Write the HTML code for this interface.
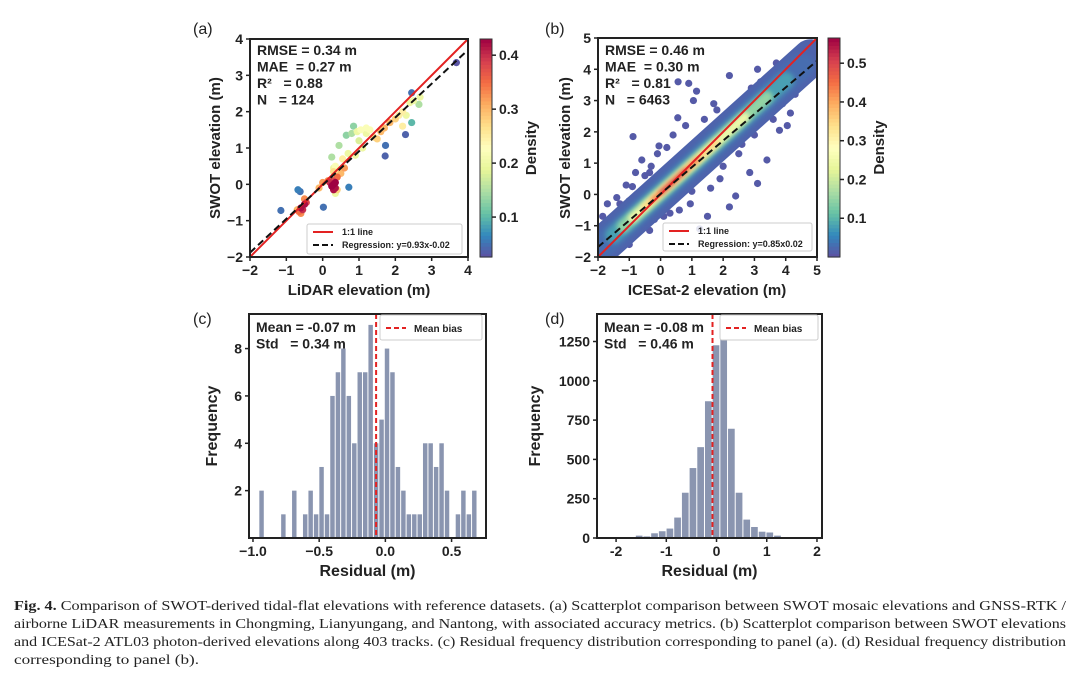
<!DOCTYPE html>
<html><head><meta charset="utf-8"><style>
html,body{margin:0;padding:0;background:#fff;}
svg{display:block;}
.t{font-family:"Liberation Sans",sans-serif;font-weight:bold;fill:#222;white-space:pre;}
.cap{font-family:"Liberation Serif",serif;font-size:13.5px;fill:#222;}
</style></head><body>
<svg id="fig" width="1080" height="681" viewBox="0 0 1080 681" xmlns="http://www.w3.org/2000/svg">
<defs><filter id="blur" x="-20%" y="-20%" width="140%" height="140%"><feGaussianBlur stdDeviation="2.5"/></filter></defs>
<g id="gA"></g>
<g id="gB"></g>
<g id="gC"></g>
<g id="gD"></g>
<g>
<text class="cap" x="14" y="610" textLength="1052" lengthAdjust="spacingAndGlyphs"><tspan font-weight="bold">Fig. 4.</tspan> Comparison of SWOT-derived tidal-flat elevations with reference datasets. (a) Scatterplot comparison between SWOT mosaic elevations and GNSS-RTK /</text>
<text class="cap" x="14" y="628" textLength="1052" lengthAdjust="spacingAndGlyphs">airborne LiDAR measurements in Chongming, Lianyungang, and Nantong, with associated accuracy metrics. (b) Scatterplot comparison between SWOT elevations</text>
<text class="cap" x="14" y="646" textLength="1052" lengthAdjust="spacingAndGlyphs">and ICESat-2 ATL03 photon-derived elevations along 403 tracks. (c) Residual frequency distribution corresponding to panel (a). (d) Residual frequency distribution</text>
<text class="cap" x="14" y="664" textLength="185" lengthAdjust="spacingAndGlyphs">corresponding to panel (b).</text>
</g>
</svg>
<script>
// ---------- data ----------
const aX=[-0.6,-0.5,-0.55,-0.45,-0.65,-0.5,-0.6,-0.7,-1.15,-0.68,-0.62,0.02,0.72,1.73,1.72,2.28,2.45,3.68,2.45,2.65,2.68,0.3,0.25,0.35,0.3,0.2,0.35,0.28,0.4,0.15,-0.1,0,0.4,0.35,0.3,0.45,0.3,0.35,0.6,0.5,0.25,0.45,0.65,0.85,0.8,0.95,1.05,1.2,1.3,1.4,1.5,1.6,1.7,1.85,2.0,2.1,2.2,2.3,2.2,1.2,1.0,0.7,0.55,0.9,1.1,2.5,2.4];
const aY=[-0.65,-0.55,-0.7,-0.5,-0.75,-0.4,-0.8,-0.7,-0.72,-0.15,-0.2,-0.63,-0.08,1.07,0.78,1.37,2.52,3.35,1.7,2.2,2.4,0,-0.05,0.05,-0.15,0.05,-0.1,0.1,0.2,0.1,-0.1,0.05,-0.15,-0.25,0.35,0.35,0.45,0.5,0.45,0.3,0.75,1.07,1.35,1.6,1.4,1.45,1.5,1.55,1.5,1.3,1.25,1.45,1.55,1.7,1.8,1.9,2.0,1.9,1.6,1.4,1.2,0.85,0.7,0.8,1.0,2.3,2.25];
const aD=[0.42,0.42,0.4,0.38,0.35,0.33,0.33,0.3,0.05,0.06,0.05,0.05,0.06,0.05,0.04,0.04,0.05,0.03,0.1,0.15,0.2,0.43,0.43,0.43,0.42,0.4,0.42,0.38,0.35,0.33,0.3,0.32,0.28,0.2,0.27,0.25,0.2,0.22,0.32,0.3,0.15,0.15,0.13,0.13,0.15,0.2,0.22,0.22,0.22,0.27,0.28,0.3,0.3,0.3,0.28,0.25,0.25,0.2,0.25,0.2,0.18,0.2,0.25,0.2,0.2,0.2,0.2];
const bX=[-1.9,-1.8,-1.6,-1.5,-1.2,-1.0,-0.8,-0.5,-0.3,0.2,-0.88,0.56,0.9,1.15,1.05,0.55,1.8,2.2,3.1,3.7,4.15,4.05,3.8,3.4,2.85,2.4,2.2,1.5,1.25,0.95,-0.35,-1.0,-1.6,-1.85,-1.3,-0.9,-0.35,-0.05,2.75,3.3,3.5,4.55,4.7,4.15,3.1,1.9,-1.4,-1.1,-0.6,-0.1,0.4,0.8,1.4,1.6,2.0,2.5,2.9,3.2,3.6,3.9,4.3,-0.7,0.1,0.6,1.0,1.7,2.6,3.0,3.5,-1.7,-0.2,0.3];
const bY=[-1.9,-1.2,-0.9,-1.6,-0.5,-0.2,0.7,0.6,0.9,1.5,1.85,3.6,3.55,3.3,3.0,2.45,2.7,3.8,4.0,4.2,3.8,2.2,2.05,1.1,0.7,-0.05,-0.4,-0.7,-1.1,-0.3,-1.15,-1.6,-1.15,-0.7,-0.3,0.25,0.7,1.55,2.6,3.1,3.45,4.4,4.6,2.6,0.35,0.5,-0.1,0.3,1.1,1.3,1.9,2.2,2.4,0.2,0.9,1.3,3.4,3.6,2.4,2.9,3.2,-1.0,-0.7,-0.5,0.1,2.9,1.6,1.9,2.6,-0.3,-0.8,-0.6];
// density bands of panel b core cloud: start x, end x, half-width (m), density level
const bandX0=[-2.0,-1.9,-1.5,-1.2,-0.9,-0.5,-0.25,0.0];
const bandX1=[4.8,4.5,4.0,3.4,2.7,1.8,1.2,0.8];
const bandH=[0.8,0.55,0.36,0.26,0.19,0.13,0.08,0.05];
const bandD=[0.02,0.03,0.08,0.15,0.25,0.35,0.45,0.53];
const cCounts=[2,0,0,0,1,0,2,0,1,2,1,3,1,6,7,8,6,4,7,7,9,4,5,8,7,3,2,1,1,1,4,4,3,4,2,0,1,2,1,2];
const cStart=-0.952, cWidth=0.0412;
const dCounts=[5,5,5,15,10,30,43,60,130,288,445,578,870,1226,1345,695,288,117,70,40,35,15,5,5,3];
const dStart=-2.066, dWidth=0.153;
const aTicks=[-2,-1,0,1,2,3,4], bTicks=[-2,-1,0,1,2,3,4,5];
const aCbTicks=[0.1,0.2,0.3,0.4], bCbTicks=[0.1,0.2,0.3,0.4,0.5];
const cXTicks=[-1.0,-0.5,0.0,0.5], cYTicks=[2,4,6,8];
const dXTicks=[-2,-1,0,1,2], dYTicks=[0,250,500,750,1000,1250];

const NS="http://www.w3.org/2000/svg";
function mk(p,tag,at,txt){const e=document.createElementNS(NS,tag);for(const k in at)e.setAttribute(k,at[k]);if(txt!==undefined)e.textContent=txt;p.appendChild(e);return e;}
const SP=["#5e4fa2","#3288bd","#66c2a5","#abdda4","#e6f598","#ffffbf","#fee08b","#fdae61","#f46d43","#d53e4f","#9e0142"];
function hx(h){return [1,3,5].map(i=>parseInt(h.substr(i,2),16));}
function cmap(t){t=Math.max(0,Math.min(1,t))*10;const i=Math.min(9,Math.floor(t)),f=t-i;const a=hx(SP[i]),b=hx(SP[i+1]);return "rgb("+a.map((v,k)=>Math.round(v+(b[k]-v)*f)).join(",")+")";}
function lin(d0,d1,r0,r1){return v=>r0+(v-d0)/(d1-d0)*(r1-r0);}

function axesFrame(g,L,R,T,B){const r=mk(g,"rect",{x:L,y:T,width:R-L,height:B-T,fill:"none",stroke:"#222","stroke-width":2});}
function xticks(g,ticks,sx,B,fmt){ticks.forEach(v=>{const x=sx(v);mk(g,"line",{x1:x,x2:x,y1:B,y2:B+4,stroke:"#222","stroke-width":1.5});const t=mk(g,"text",{class:"t",x:x,y:B+18,"text-anchor":"middle","font-size":14},fmt(v));});}
function yticks(g,ticks,sy,L,fmt){ticks.forEach(v=>{const y=sy(v);mk(g,"line",{x1:L-4,x2:L,y1:y,y2:y,stroke:"#222","stroke-width":1.5});const t=mk(g,"text",{class:"t",x:L-7,y:y+5,"text-anchor":"end","font-size":14},fmt(v));});}
function label(g,txt,x,y,rot,name,size){const t=mk(g,"text",{class:"t",x:x,y:y,"text-anchor":"middle","font-size":size||15,transform:rot?`rotate(-90 ${x} ${y})`:""},txt);}
function panelLetter(g,txt,x,y){const t=mk(g,"text",{x:x,y:y,"font-family":"Liberation Sans,sans-serif","font-size":16,fill:"#222"},txt);}
function stats(g,lines,x,y){lines.forEach((s,i)=>{const t=mk(g,"text",{class:"t",x:x,y:y+i*16.5,"font-size":14},s);});}
function colorbar(g,L,T,B,vmin,vmax,ticks){
  const n=60,h=(B-T)/n;for(let i=0;i<n;i++){mk(g,"rect",{x:L,y:B-(i+1)*h,width:12,height:h+0.6,fill:cmap((i+0.5)/n)});}
  const r=mk(g,"rect",{x:L,y:T,width:12,height:B-T,fill:"none",stroke:"#333","stroke-width":1});
  const sy=lin(vmin,vmax,B,T);ticks.forEach(v=>{const y=sy(v);mk(g,"line",{x1:L+12,x2:L+16,y1:y,y2:y,stroke:"#222","stroke-width":1.5});const t=mk(g,"text",{class:"t",x:L+19,y:y+5,"font-size":14},v.toFixed(1));});
  label(g,"Density",L+56,(T+B)/2,true,"colorbar-title",15);
}
function scatterLegend(g,x0,y0,x1,y1,reg){const r=mk(g,"rect",{x:x0,y:y0,width:x1-x0,height:y1-y0,fill:"#fff","fill-opacity":0.85,stroke:"#ccc",rx:2});
  mk(g,"line",{x1:x0+6,x2:x0+26,y1:y0+8,y2:y0+8,stroke:"#e32222","stroke-width":2});mk(g,"text",{class:"t",x:x0+35,y:y0+11,"font-size":9},"1:1 line");
  mk(g,"line",{x1:x0+6,x2:x0+26,y1:y0+21,y2:y0+21,stroke:"#111","stroke-width":2,"stroke-dasharray":"6 3"});mk(g,"text",{class:"t",x:x0+35,y:y0+24,"font-size":9},reg);}
function histLegend(g,x0,y0,x1,y1){const r=mk(g,"rect",{x:x0,y:y0,width:x1-x0,height:y1-y0,fill:"#fff",stroke:"#ccc",rx:2});
  mk(g,"line",{x1:x0+6,x2:x0+26,y1:y0+13,y2:y0+13,stroke:"#e32222","stroke-width":2,"stroke-dasharray":"5 3"});mk(g,"text",{class:"t",x:x0+34,y:y0+17,"font-size":10},"Mean bias");}

// ---------- Panel A ----------
(function(){const g=document.getElementById("gA");const L=250,R=468,T=39,B=257;const sx=lin(-2,4,L,R),sy=lin(-2,4,B,T);
 const vmin=0.026,vmax=0.43;
 const order=aD.map((d,i)=>i).sort((p,q)=>aD[p]-aD[q]);
 order.forEach(i=>{const c=mk(g,"circle",{cx:sx(aX[i]),cy:sy(aY[i]),r:3.6,fill:cmap((aD[i]-vmin)/(vmax-vmin))});});
 mk(g,"line",{x1:sx(-2),y1:sy(-2),x2:sx(4),y2:sy(4),stroke:"#e32222","stroke-width":2});
 mk(g,"line",{x1:sx(-2),y1:sy(0.93*-2-0.02),x2:sx(4),y2:sy(0.93*4-0.02),stroke:"#111","stroke-width":2,"stroke-dasharray":"7 4"});
 axesFrame(g,L,R,T,B);xticks(g,aTicks,sx,B,v=>v<0?"−"+(-v):""+v);yticks(g,aTicks,sy,L,v=>v<0?"−"+(-v):""+v);
 stats(g,["RMSE = 0.34 m","MAE  = 0.27 m","R²   = 0.88","N   = 124"],257,55);
 scatterLegend(g,307,224,462,254,"Regression: y=0.93x-0.02");
 colorbar(g,480,39,257,vmin,vmax,aCbTicks);
 label(g,"LiDAR elevation (m)",359,295,false,"x-axis-title");label(g,"SWOT elevation (m)",220,148,true,"y-axis-title");panelLetter(g,"(a)",193,34);})();

// ---------- Panel B ----------
(function(){const g=document.getElementById("gB");const L=598,R=817,T=38,B=257;const sx=lin(-2,5,L,R),sy=lin(-2,5,B,T);
 const vmin=0,vmax=0.565;const ppu=(R-L)/7;
 const cl=mk(g,"clipPath",{id:"clipB"});mk(cl,"rect",{x:L,y:T,width:R-L,height:B-T});
 const inner=mk(g,"g",{"clip-path":"url(#clipB)"});
 bX.forEach((x,i)=>{const c=mk(inner,"circle",{cx:sx(x),cy:sy(bY[i]),r:3.6,fill:cmap(0.02)});});
 const f=v=>0.9*v+0.05;
 bandX0.forEach((x0,i)=>{const l=mk(inner,"line",{x1:sx(x0),y1:sy(f(x0)),x2:sx(bandX1[i]),y2:sy(f(bandX1[i])),stroke:cmap(bandD[i]/vmax),"stroke-width":bandH[i]*2*ppu*0.74,"stroke-linecap":"round",filter:i>0?"url(#blur)":""});});
 mk(inner,"line",{x1:sx(-2),y1:sy(-2),x2:sx(5),y2:sy(5),stroke:"#e32222","stroke-width":2});
 mk(inner,"line",{x1:sx(-2),y1:sy(0.85*-2+0.02),x2:sx(5),y2:sy(0.85*5+0.02),stroke:"#111","stroke-width":2,"stroke-dasharray":"7 4"});
 axesFrame(g,L,R,T,B);xticks(g,bTicks,sx,B,v=>v<0?"−"+(-v):""+v);yticks(g,bTicks,sy,L,v=>v<0?"−"+(-v):""+v);
 stats(g,["RMSE = 0.46 m","MAE  = 0.30 m","R²   = 0.81","N   = 6463"],605,55);
 scatterLegend(g,663,223,812,251,"Regression: y=0.85x0.02");
 colorbar(g,828,38,257,vmin,vmax,bCbTicks);
 label(g,"ICESat-2 elevation (m)",707,295,false,"x-axis-title");label(g,"SWOT elevation (m)",570,148,true,"y-axis-title");panelLetter(g,"(b)",545,34);})();

// ---------- Histograms ----------
function hist(id,L,R,T,B,x0,x1,y0,y1,counts,start,w,xt,yt,xf,yf,mean,st,letter,lx,legX,ylabX){
 const g=document.getElementById(id);const sx=lin(x0,x1,L,R),sy=lin(y0,y1,B,T);
 counts.forEach((c,i)=>{if(c<=0)return;const a=sx(start+i*w),b=sx(start+(i+1)*w);const r=mk(g,"rect",{x:a,y:sy(c),width:Math.max(0,b-a-1),height:B-sy(c),fill:"#8a95b0"});});
 const ml=mk(g,"line",{x1:sx(mean),x2:sx(mean),y1:T,y2:B,stroke:"#e32222","stroke-width":2,"stroke-dasharray":"5 3"});
 axesFrame(g,L,R,T,B);xticks(g,xt,sx,B,xf);yticks(g,yt,sy,L,yf);
 stats(g,st,L+7,T+18);histLegend(g,legX,T+1,R-4,T+26);
 label(g,"Residual (m)",(L+R)/2,B+38,false,"x-axis-title",16);label(g,"Frequency",ylabX,(T+B)/2,true,"y-axis-title",16);panelLetter(g,letter,lx,T+10);}
hist("gC",249,486,314,538,-1.03,0.76,0,9.46,cCounts,cStart,cWidth,cXTicks,cYTicks,v=>(v<0?"−":"")+Math.abs(v).toFixed(1),v=>""+v,-0.07,["Mean = -0.07 m","Std   = 0.34 m"],"(c)",193,380,217);
hist("gD",597,822,314,538,-2.38,2.1,0,1425,dCounts,dStart,dWidth,dXTicks,dYTicks,v=>v<0?"-"+(-v):""+v,v=>""+v,-0.08,["Mean = -0.08 m","Std   = 0.46 m"],"(d)",545,720,540);
</script>
</body></html>
